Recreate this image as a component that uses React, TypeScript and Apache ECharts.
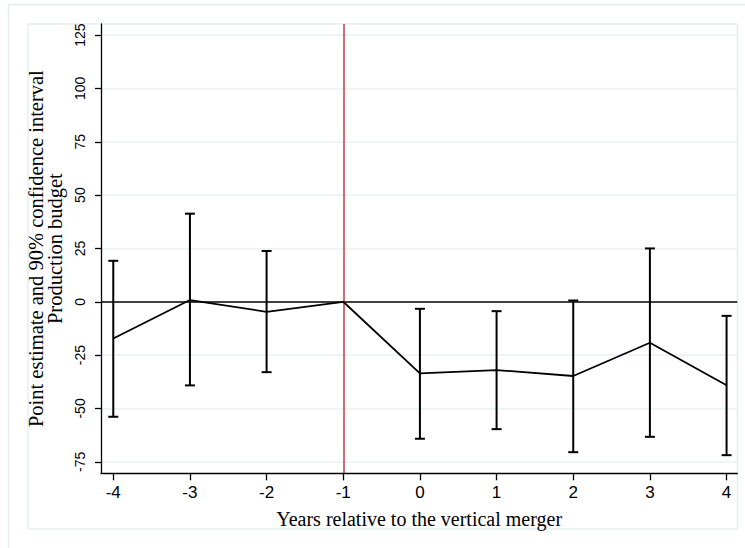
import React, { useEffect, useRef } from "react";
import * as echarts from "echarts";

const years = [-4, -3, -2, -1, 0, 1, 2, 3, 4];
const estimates = [-17.2, 0.8, -4.7, 0, -33.6, -32.0, -34.8, -19.2, -39.1];
const ciLower = [-53.9, -39.2, -33.0, 0, -64.2, -59.7, -70.5, -63.3, -71.9];
const ciUpper = [19.2, 41.3, 23.8, 0, -3.3, -4.4, 0.6, 25.0, -6.6];
const yTicks = [-75, -50, -25, 0, 25, 50, 75, 100, 125];
const xTicks = [-4, -3, -2, -1, 0, 1, 2, 3, 4];
const eventYear = -1;

const serif = "'Liberation Serif', 'Times New Roman', serif";
const sans = "'Liberation Sans', Arial, Helvetica, sans-serif";

export default function App() {
  const ref = useRef<HTMLDivElement>(null);
  useEffect(() => {
    if (!ref.current) return;
    const chart = echarts.init(ref.current, undefined, { renderer: "svg" });
    const barData = years
      .map((x, i) => [x, ciLower[i], ciUpper[i]])
      .filter((d) => d[1] !== d[2]);
    chart.setOption({
      animation: false,
      backgroundColor: "#ffffff",
      graphic: [
        {
          type: "rect",
          silent: true,
          z: -10,
          shape: { x: 8.5, y: 4.5, width: 800, height: 600 },
          style: { fill: "none", stroke: "#e5ecef", lineWidth: 1.5 },
        },
        {
          type: "rect",
          silent: true,
          z: -10,
          shape: { x: 28, y: 24, width: 709.5, height: 505 },
          style: { fill: "none", stroke: "#e8eef0", lineWidth: 1.5 },
        },
      ],
      grid: { left: 101, top: 24, right: 7.7, bottom: 74.7, containLabel: false },
      xAxis: {
        type: "value",
        min: -4.16,
        max: 4.14,
        z: 6,
        name: "Years relative to the vertical merger",
        nameLocation: "middle",
        nameGap: 36,
        nameTextStyle: { fontFamily: serif, fontSize: 20, color: "#000" },
        axisLine: { show: true, onZero: false, lineStyle: { color: "#000", width: 1.3 } },
        axisTick: { show: true, length: 7, customValues: xTicks, lineStyle: { color: "#000", width: 1.3 } },
        axisLabel: {
          customValues: xTicks,
          fontFamily: sans,
          fontSize: 17,
          color: "#000",
          margin: 11,
        },
        splitLine: { show: false },
      },
      yAxis: {
        type: "value",
        min: -80.4,
        max: 130.2,
        z: 6,
        name: "Point estimate and 90% confidence interval\nProduction budget",
        nameLocation: "middle",
        nameRotate: 90,
        nameGap: 27,
        nameTextStyle: { fontFamily: serif, fontSize: 20.5, color: "#000", lineHeight: 19 },
        axisLine: { show: true, onZero: false, lineStyle: { color: "#000", width: 1.3 } },
        axisTick: { show: true, length: 6, customValues: yTicks, lineStyle: { color: "#000", width: 1.3 } },
        axisLabel: {
          customValues: yTicks,
          rotate: 90,
          fontFamily: sans,
          fontSize: 14,
          color: "#000",
          margin: 14,
        },
        splitLine: { show: false },
      },
      series: [
        {
          type: "line",
          data: [],
          z: 1,
          silent: true,
          markLine: {
            z: 1,
            silent: true,
            symbol: "none",
            label: { show: false },
            lineStyle: { color: "#eaf1f4", width: 1.5, type: "solid" },
            data: yTicks.filter((v) => v !== 0).map((v) => ({ yAxis: v })),
          },
        },
        {
          type: "line",
          data: [],
          z: 2,
          silent: true,
          markLine: {
            z: 2,
            silent: true,
            symbol: "none",
            label: { show: false },
            data: [
              { yAxis: 0, lineStyle: { color: "#000", width: 1.5, type: "solid" } },
              { xAxis: eventYear, lineStyle: { color: "#c03a4c", width: 1.5, type: "solid" } },
            ],
          },
        },
        {
          type: "custom",
          z: 3,
          data: barData,
          renderItem: (params: any, api: any) => {
            const x = api.value(0);
            const lo = api.coord([x, api.value(1)]);
            const hi = api.coord([x, api.value(2)]);
            const half = 5;
            const style = { stroke: "#000", lineWidth: 2 };
            return {
              type: "group",
              children: [
                { type: "line", shape: { x1: lo[0], y1: lo[1], x2: hi[0], y2: hi[1] }, style },
                { type: "line", shape: { x1: hi[0] - half, y1: hi[1], x2: hi[0] + half, y2: hi[1] }, style },
                { type: "line", shape: { x1: lo[0] - half, y1: lo[1], x2: lo[0] + half, y2: lo[1] }, style },
              ],
            };
          },
        },
        {
          type: "line",
          z: 4,
          data: years.map((x, i) => [x, estimates[i]]),
          showSymbol: false,
          symbol: "none",
          lineStyle: { color: "#000", width: 1.8 },
        },
      ],
    });
    return () => chart.dispose();
  }, []);
  return (
    <div
      ref={ref}
      style={{ position: "fixed", left: 0, top: 0, width: 745, height: 548, background: "#fff" }}
    />
  );
}
